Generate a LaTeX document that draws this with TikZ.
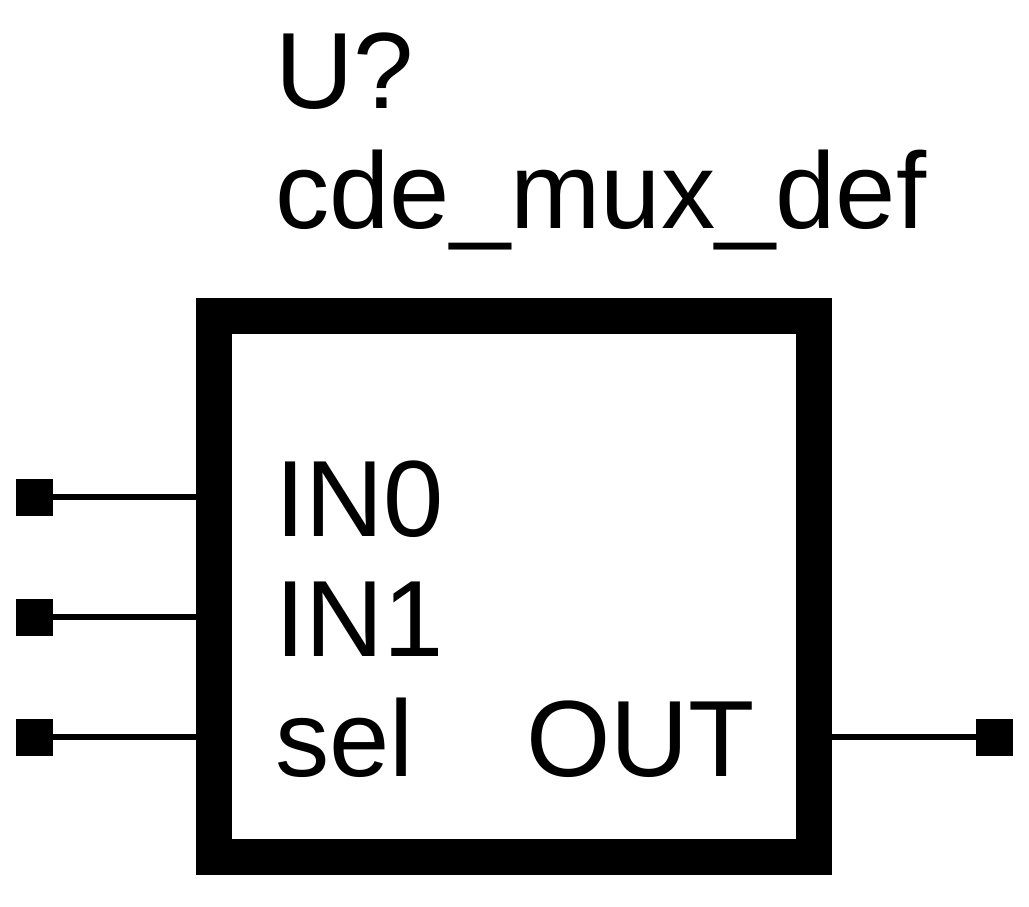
\documentclass[tikz,border=0pt]{standalone}
\usepackage{fontspec}
\setmainfont{Liberation Sans}
\tikzset{
  x=1pt,y=-1pt,
  symbox/.style={draw=black,line width=36pt,fill=white,minimum width=600pt,minimum height=541pt,inner sep=0pt,outer sep=0pt,anchor=north west},
  pinsq/.style={fill=black,draw=none,minimum size=37pt,inner sep=0pt,outer sep=0pt},
  wire/.style={draw=black,line width=6pt},
  lbl/.style={anchor=base west,inner sep=0pt,outer sep=0pt,text=black,font=\fontsize{108.4pt}{120pt}\selectfont}
}
\begin{document}
\begin{tikzpicture}
\useasboundingbox (0,0) rectangle (1029,907);
\node[symbox] (box) at (214,316) {};
\node[pinsq] (p0) at (34.5,497) {};
\node[pinsq] (p1) at (34.5,617) {};
\node[pinsq] (p2) at (34.5,737) {};
\node[pinsq] (p3) at (994.5,737) {};
\draw[wire] (p0.east) -- (p0.east -| box.west);
\draw[wire] (p1.east) -- (p1.east -| box.west);
\draw[wire] (p2.east) -- (p2.east -| box.west);
\draw[wire] (p3.west) -- (p3.west -| box.east);
\node[lbl] (ref) at (275.2,108.5) {U?};
\node[lbl] (val) at (275.5,228.5) {cde\_mux\_def};
\node[lbl] (in0) at (275.2,536) {IN0};
\node[lbl] (in1) at (275.2,656) {IN1};
\node[lbl] (sel) at (275.5,776) {sel};
\node[lbl] (out) at (526,776) {OUT};
\end{tikzpicture}
\end{document}
